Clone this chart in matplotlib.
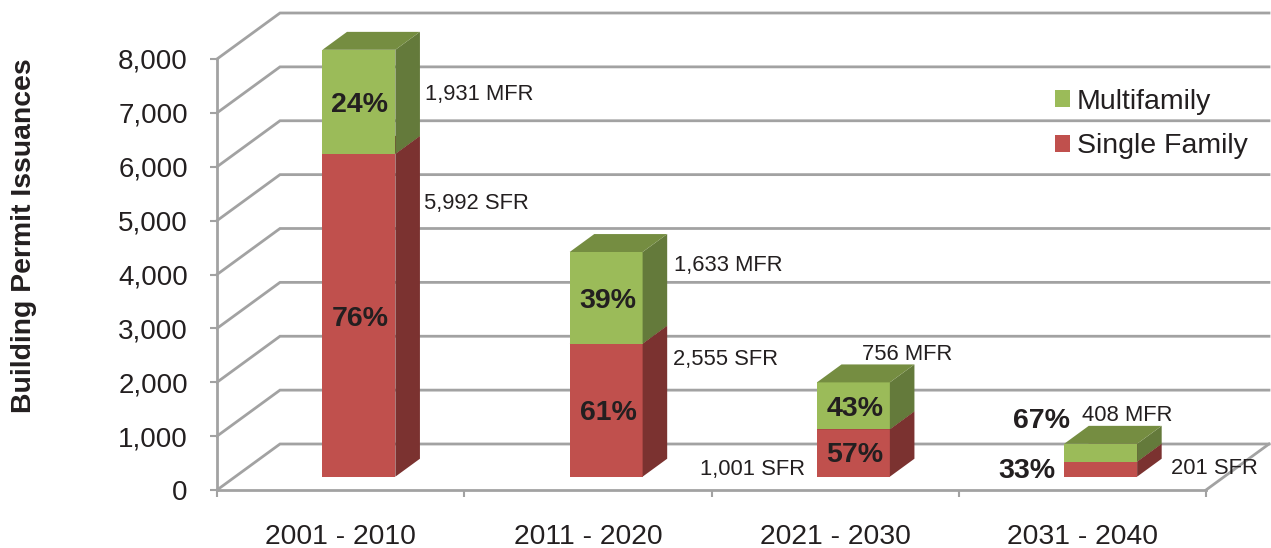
import matplotlib
matplotlib.use('Agg')
from matplotlib import pyplot as plt
from matplotlib.patches import Patch

decades = ['2001 - 2010', '2011 - 2020', '2021 - 2030', '2031 - 2040']
# bar heights
single_family = [5992, 2470, 880, 280]
multifamily = [1931, 1700, 870, 330]

sf_share = ['76%', '61%', '57%', '33%']
mf_share = ['24%', '39%', '43%', '67%']
sf_labels = ['5,992 SFR', '2,555 SFR', '1,001 SFR', '201 SFR']
mf_labels = ['1,931 MFR', '1,633 MFR', '756 MFR', '408 MFR']
y_ticks = [0, 1000, 2000, 3000, 4000, 5000, 6000, 7000, 8000]

W, H = 1271, 548
GRID = '#a2a2a2'
TEXT = '#231f20'
GREEN = ('#9bbb59', '#647a3b', '#758d41')
RED = ('#c0504d', '#7b3230', '#7b3230')

# front plane of the chart in pixels
LEFT, RIGHT, BOTTOM, TOP = 217, 1206, 490, 59
DEPTH_X, DEPTH_Y = 63, 46
BAR_W = 0.295
BAR_D0, BAR_D1 = 0.29, 0.68

plt.rcParams['font.family'] = ['Liberation Sans', 'DejaVu Sans']
plt.rcParams['text.color'] = TEXT

px_x = (RIGHT - LEFT) / 4
px_y = (BOTTOM - TOP) / 8000


def project(x, v, d):
    # push a point back by depth d (0 front, 1 back wall)
    return x + d * DEPTH_X / px_x, v + d * DEPTH_Y / px_y


def face(ax, pts, color, z):
    ax.fill([p[0] for p in pts], [p[1] for p in pts], color=color, lw=0, zorder=z, clip_on=False)


def bar(ax, x, v0, v1, colors, z):
    l, r = x - BAR_W / 2, x + BAR_W / 2
    face(ax, [project(l, v0, BAR_D0), project(r, v0, BAR_D0),
              project(r, v1, BAR_D0), project(l, v1, BAR_D0)], colors[0], z)
    face(ax, [project(r, v0, BAR_D0), project(r, v0, BAR_D1),
              project(r, v1, BAR_D1), project(r, v1, BAR_D0)], colors[1], z)
    face(ax, [project(l, v1, BAR_D0), project(r, v1, BAR_D0),
              project(r, v1, BAR_D1), project(l, v1, BAR_D1)], colors[2], z)


def label(x, y, s, **kw):
    kw.setdefault('fontsize', 15.8)
    kw.setdefault('va', 'center')
    fig.text(x / W, 1 - (y + 2.5) / H, s, **kw)


fig = plt.figure(figsize=(W / 100, H / 100), dpi=100)
ax = fig.add_axes([LEFT / W, 1 - BOTTOM / H, (RIGHT - LEFT) / W, (BOTTOM - TOP) / H])
ax.set_xlim(-0.5, 3.5)
ax.set_ylim(0, 8000)

for v in y_ticks:
    ax.plot(*zip(project(-0.5, v, 0), project(-0.5, v, 1), project(3.5, v, 1)),
            color=GRID, lw=2, zorder=1, clip_on=False, solid_joinstyle='miter')
ax.plot(*zip(project(3.5, 0, 0), project(3.5, 0, 1)), color=GRID, lw=2, zorder=1, clip_on=False)

for i in range(len(decades)):
    bar(ax, i, 0, single_family[i], RED, 3)
    bar(ax, i, single_family[i], single_family[i] + multifamily[i], GREEN, 3)

for s in ['top', 'right']:
    ax.spines[s].set_visible(False)
for s in ['left', 'bottom']:
    ax.spines[s].set_color(GRID)
    ax.spines[s].set_linewidth(2)

ax.set_yticks(y_ticks)
ax.set_yticklabels([f'{v:,}' for v in y_ticks])
ax.set_xticks(range(len(decades)))
ax.set_xticklabels(decades)
ax.set_xticks([-0.5, 0.5, 1.5, 2.5, 3.5], minor=True)
ax.tick_params(axis='y', labelsize=20, colors=GRID, labelcolor=TEXT, length=5, width=1.5, pad=16)
ax.tick_params(axis='x', which='major', labelsize=20.4, labelcolor=TEXT, length=0, pad=24.5)
ax.tick_params(axis='x', which='minor', color=GRID, length=5, width=1.5)

fig.text(24 / W, 1 - 236 / H, 'Building Permit Issuances', rotation=90, fontsize=20.4,
         fontweight='bold', ha='center', va='center')

# value labels beside the columns
mf_pos = [(425, 92), (674, 263), (862, 352), (1082, 413)]
sf_pos = [(424, 201), (673, 357), (700, 467), (1171, 466)]
for (x, y), s in zip(mf_pos, mf_labels):
    label(x, y, s)
for (x, y), s in zip(sf_pos, sf_labels):
    label(x, y, s)

# percentages
mf_pct_pos = [(360, 103), (608, 298), (855, 407), (1041, 418)]
sf_pct_pos = [(360, 316), (608, 410), (855, 453), (1027, 469)]
for (x, y), s in zip(mf_pct_pos, mf_share):
    label(x, y, s, fontsize=20.5, fontweight='bold', ha='center')
for (x, y), s in zip(sf_pct_pos, sf_share):
    label(x, y, s, fontsize=20.5, fontweight='bold', ha='center')

handles = [Patch(color=GREEN[0], lw=0), Patch(color=RED[0], lw=0)]
fig.legend(handles, ['Multifamily', 'Single Family'], loc='center left',
           bbox_to_anchor=(1029 / W, 1 - 124 / H), frameon=False, fontsize=20.5,
           handlelength=0.53, handleheight=0.53, handletextpad=0.25, labelspacing=0.66,
           labelcolor=TEXT)

fig.savefig('out.png', dpi=100)
